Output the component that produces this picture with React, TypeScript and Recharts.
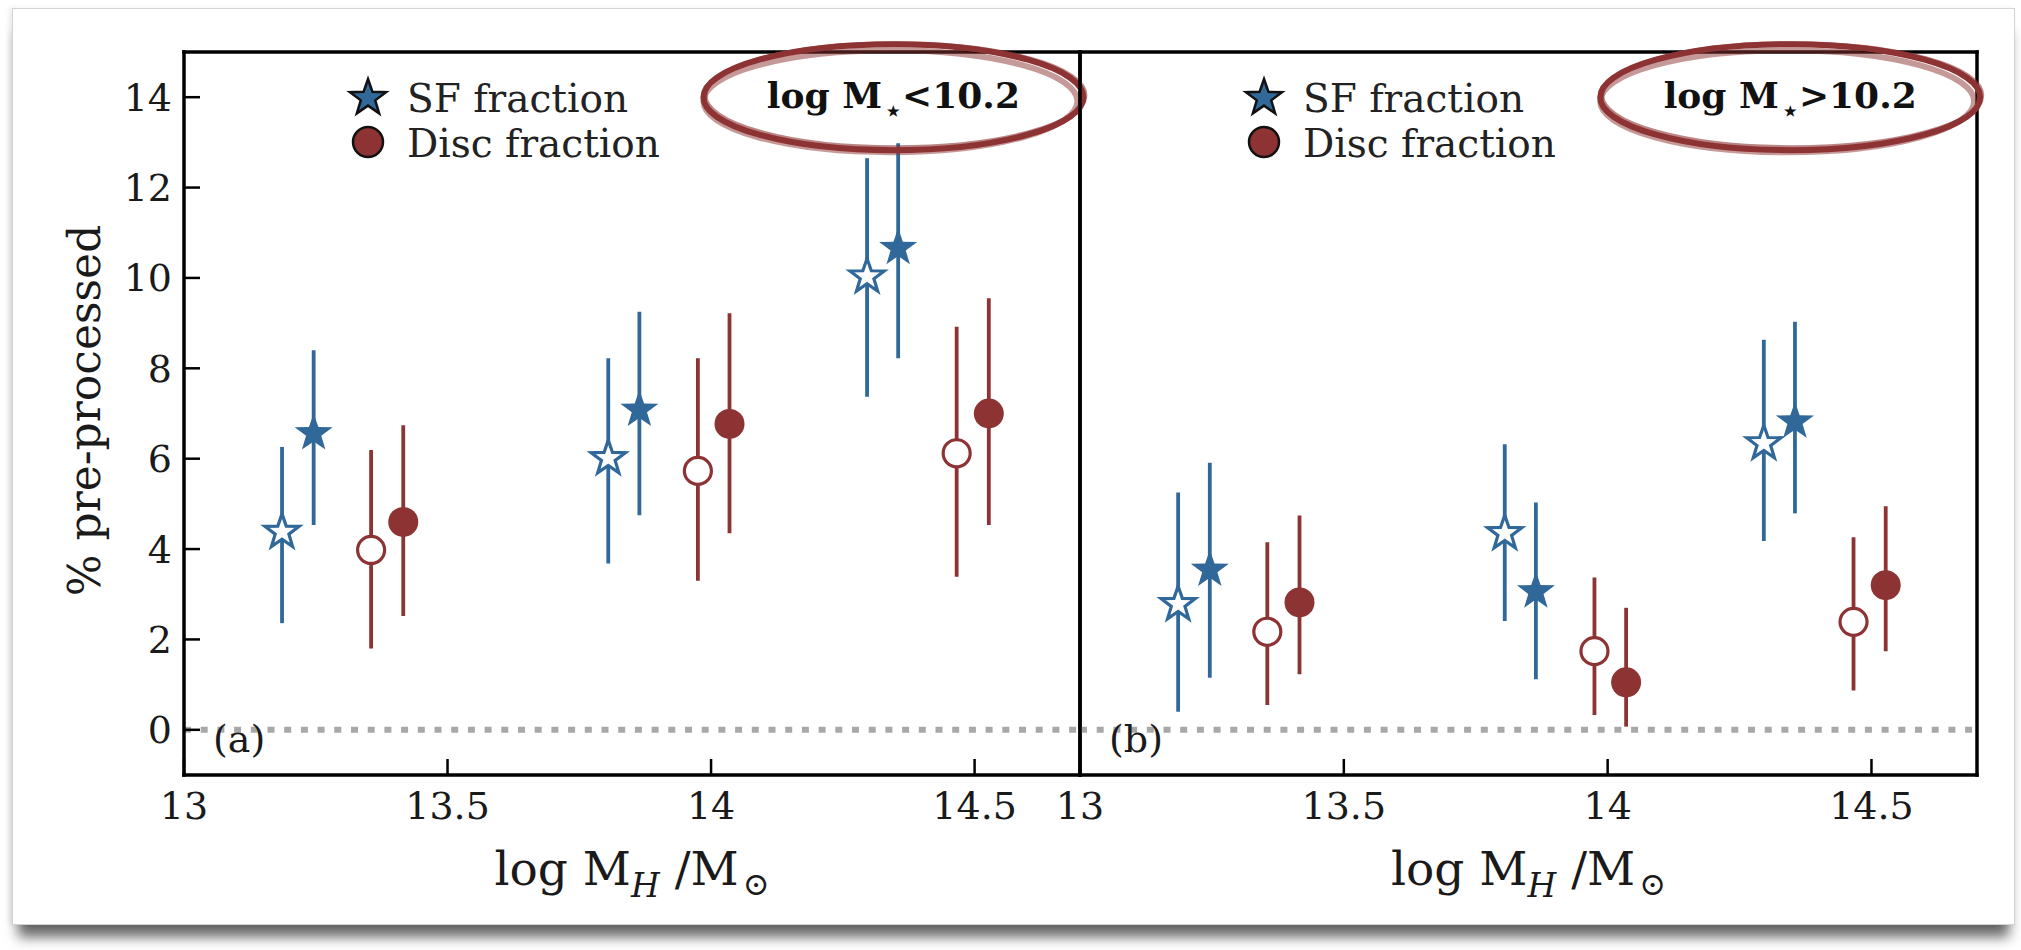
import React from "react";
import {
  ErrorBar,
  ReferenceDot,
  ReferenceLine,
  Scatter,
  ScatterChart,
  XAxis,
  YAxis,
} from "recharts";

const SERIF = "'DejaVu Serif', serif";
const BLUE = "#31689a";
const RED = "#8e3333";
const INK = "#1a1a1a";

const X_DOMAIN = [13, 14.7];
const Y_DOMAIN = [-1, 15];
const X_TICKS = [13, 13.5, 14, 14.5];
const Y_TICKS = [0, 2, 4, 6, 8, 10, 12, 14];

// log M_H positions of the four samples in each halo-mass bin
const sfOpenX = [13.186, 13.805, 14.296];
const sfFullX = [13.246, 13.864, 14.355];
const discOpenX = [13.355, 13.975, 14.466];
const discFullX = [13.416, 14.035, 14.527];

// panel (a): log M* < 10.2
const aSfOpen = [4.38, 6.01, 10.03];
const aSfOpenLo = [2.36, 3.68, 7.37];
const aSfOpenHi = [6.26, 8.22, 12.65];
const aSfFull = [6.56, 7.08, 10.66];
const aSfFullLo = [4.53, 4.75, 8.22];
const aSfFullHi = [8.4, 9.25, 12.98];
const aDiscOpen = [3.98, 5.73, 6.12];
const aDiscOpenLo = [1.8, 3.3, 3.39];
const aDiscOpenHi = [6.19, 8.22, 8.92];
const aDiscFull = [4.6, 6.77, 7.0];
const aDiscFullLo = [2.52, 4.35, 4.53];
const aDiscFullHi = [6.74, 9.22, 9.55];

// panel (b): log M* > 10.2
const bSfOpen = [2.78, 4.35, 6.34];
const bSfOpenLo = [0.4, 2.41, 4.18];
const bSfOpenHi = [5.25, 6.32, 8.63];
const bSfFull = [3.54, 3.06, 6.82];
const bSfFullLo = [1.15, 1.12, 4.79];
const bSfFullHi = [5.91, 5.03, 9.03];
const bDiscOpen = [2.17, 1.74, 2.39];
const bDiscOpenLo = [0.55, 0.33, 0.87];
const bDiscOpenHi = [4.15, 3.37, 4.26];
const bDiscFull = [2.82, 1.05, 3.2];
const bDiscFullLo = [1.23, 0.07, 1.74];
const bDiscFullHi = [4.74, 2.7, 4.95];

const pts = (xs: number[], ys: number[], lo: number[], hi: number[]) =>
  xs.map((x, i) => ({ x, y: ys[i], err: [ys[i] - lo[i], hi[i] - ys[i]] }));

const panelA = {
  sfOpen: pts(sfOpenX, aSfOpen, aSfOpenLo, aSfOpenHi),
  sfFull: pts(sfFullX, aSfFull, aSfFullLo, aSfFullHi),
  discOpen: pts(discOpenX, aDiscOpen, aDiscOpenLo, aDiscOpenHi),
  discFull: pts(discFullX, aDiscFull, aDiscFullLo, aDiscFullHi),
};
const panelB = {
  sfOpen: pts(sfOpenX, bSfOpen, bSfOpenLo, bSfOpenHi),
  sfFull: pts(sfFullX, bSfFull, bSfFullLo, bSfFullHi),
  discOpen: pts(discOpenX, bDiscOpen, bDiscOpenLo, bDiscOpenHi),
  discFull: pts(discFullX, bDiscFull, bDiscFullLo, bDiscFullHi),
};

function starPath(cx: number, cy: number, R: number) {
  const r = R * 0.4;
  let d = "";
  for (let i = 0; i < 10; i++) {
    const rad = i % 2 === 0 ? R : r;
    const a = -Math.PI / 2 + (i * Math.PI) / 5;
    d += (i ? "L" : "M") + (cx + rad * Math.cos(a)).toFixed(2) + "," + (cy + rad * Math.sin(a)).toFixed(2);
  }
  return d + "Z";
}

const openStar = (p: any) => (
  <path d={starPath(p.cx, p.cy, 18)} fill="#fff" stroke={BLUE} strokeWidth={3.2} />
);
const fullStar = (p: any) => <path d={starPath(p.cx, p.cy, 20)} fill={BLUE} />;
const openDot = (p: any) => (
  <circle cx={p.cx} cy={p.cy} r={13.5} fill="#fff" stroke={RED} strokeWidth={3.2} />
);
const fullDot = (p: any) => <circle cx={p.cx} cy={p.cy} r={15} fill={RED} />;

const FRAME = { stroke: "#000", strokeWidth: 3.5, strokeLinecap: "square" as const };
const TICK_LINE = { stroke: "#000", strokeWidth: 2.5 };
const TICK_FONT = { fontSize: 38, fill: INK, fontFamily: SERIF };

const XTitle = (props: any) => {
  const vb = props.viewBox;
  const cx = vb.x + vb.width / 2;
  return (
    <text x={cx} y={vb.y + 110} textAnchor="middle" fontFamily={SERIF} fontSize={47} fill={INK}>
      log M
      <tspan fontSize={33} fontStyle="italic" dy={12}>H</tspan>
      <tspan dy={-12}> /M</tspan>
      <tspan fontSize={32} dy={10} dx={4}>⊙</tspan>
    </text>
  );
};

const YTitle = (props: any) => {
  const vb = props.viewBox;
  const cx = vb.x + 40;
  const cy = vb.y + vb.height / 2 - 3;
  return (
    <text
      x={cx}
      y={cy}
      transform={`rotate(-90 ${cx} ${cy})`}
      textAnchor="middle"
      dominantBaseline="central"
      fontFamily={SERIF}
      fontSize={44}
      fill={INK}
    >
      % pre-processed
    </text>
  );
};

function massBadge(sign: string) {
  return (p: any) => (
    <g>
      <ellipse cx={p.cx - 3} cy={p.cy + 4} rx={187} ry={51} fill="none" stroke={RED} strokeWidth={6} opacity={0.5} />
      <ellipse cx={p.cx + 2} cy={p.cy - 2} rx={190} ry={52} fill="none" stroke={RED} strokeWidth={4} opacity={0.6} />
      <ellipse cx={p.cx} cy={p.cy} rx={190} ry={53} fill="none" stroke={RED} strokeWidth={6} />
      <text x={p.cx} y={p.cy + 11} textAnchor="middle" fontFamily={SERIF} fontWeight="bold" fontSize={36} fill="#111">
        log M
        <tspan fontSize={14} dy={8} dx={5}>★</tspan>
        <tspan dy={-8} dx={2}>{sign + "10.2"}</tspan>
      </text>
    </g>
  );
}

function panelTag(tag: string) {
  return (p: any) => (
    <text x={p.cx + 29} y={p.cy + 22} fontFamily={SERIF} fontSize={38} fill={INK}>
      {tag}
    </text>
  );
}

function Panel({ data, left, right, width, showY, tag, sign }: any) {
  return (
    <div style={{ position: "absolute", left: 0, top: 0 }}>
      <ScatterChart width={width} height={950} margin={{ top: 32, right, bottom: 115, left }}>
        <XAxis
          xAxisId="b"
          type="number"
          dataKey="x"
          domain={X_DOMAIN}
          ticks={X_TICKS}
          interval={0}
          allowDataOverflow
          height={60}
          tickSize={-16}
          tickMargin={33}
          tick={TICK_FONT}
          tickLine={TICK_LINE}
          axisLine={FRAME}
          label={XTitle}
        />
        <XAxis
          xAxisId="t"
          orientation="top"
          type="number"
          domain={X_DOMAIN}
          ticks={X_TICKS}
          interval={0}
          allowDataOverflow
          height={20}
          tickSize={-16}
          tick={false}
          tickLine={TICK_LINE}
          axisLine={FRAME}
        />
        <YAxis
          yAxisId="l"
          type="number"
          dataKey="y"
          domain={Y_DOMAIN}
          ticks={Y_TICKS}
          interval={0}
          allowDataOverflow
          width={140}
          tickSize={-16}
          tickMargin={28}
          tick={showY ? TICK_FONT : false}
          tickLine={TICK_LINE}
          axisLine={FRAME}
          label={showY ? YTitle : undefined}
        />
        <YAxis
          yAxisId="r"
          orientation="right"
          type="number"
          domain={Y_DOMAIN}
          ticks={Y_TICKS}
          interval={0}
          allowDataOverflow
          width={20}
          tickSize={-16}
          tick={false}
          tickLine={TICK_LINE}
          axisLine={FRAME}
        />
        <ReferenceLine
          xAxisId="b"
          yAxisId="l"
          y={0}
          stroke="#a8a8a8"
          strokeWidth={6}
          strokeDasharray="7 9.7"
        />
        <Scatter xAxisId="b" yAxisId="l" data={data.sfOpen} shape={openStar} isAnimationActive={false}>
          <ErrorBar dataKey="err" direction="y" width={0} stroke={BLUE} strokeWidth={3.8} isAnimationActive={false} />
        </Scatter>
        <Scatter xAxisId="b" yAxisId="l" data={data.sfFull} shape={fullStar} isAnimationActive={false}>
          <ErrorBar dataKey="err" direction="y" width={0} stroke={BLUE} strokeWidth={3.8} isAnimationActive={false} />
        </Scatter>
        <Scatter xAxisId="b" yAxisId="l" data={data.discOpen} shape={openDot} isAnimationActive={false}>
          <ErrorBar dataKey="err" direction="y" width={0} stroke={RED} strokeWidth={3.8} isAnimationActive={false} />
        </Scatter>
        <Scatter xAxisId="b" yAxisId="l" data={data.discFull} shape={fullDot} isAnimationActive={false}>
          <ErrorBar dataKey="err" direction="y" width={0} stroke={RED} strokeWidth={3.8} isAnimationActive={false} />
        </Scatter>
        <ReferenceDot xAxisId="b" yAxisId="l" x={13} y={0} r={0} ifOverflow="visible" shape={panelTag(tag)} />
        <ReferenceDot xAxisId="b" yAxisId="l" x={14.346} y={14} r={0} ifOverflow="visible" shape={massBadge(sign)} />
      </ScatterChart>
    </div>
  );
}

function LegendBox({ left }: { left: number }) {
  return (
    <svg style={{ position: "absolute", left, top: 70 }} width={340} height={110}>
      <path d={starPath(24, 28, 19)} fill={BLUE} stroke="#111" strokeWidth={2.5} />
      <text x={63} y={42} fontFamily={SERIF} fontSize={39} fill="#222">SF fraction</text>
      <circle cx={24} cy={72} r={15} fill={RED} stroke="#111" strokeWidth={2.5} />
      <text x={63} y={87} fontFamily={SERIF} fontSize={39} fill="#222">Disc fraction</text>
    </svg>
  );
}

export default function App() {
  return (
    <div style={{ position: "relative", width: 2021, height: 950, background: "#fff", overflow: "hidden" }}>
      <style>{"body{margin:0}"}</style>
      <div
        style={{
          position: "absolute",
          left: 12,
          top: 8,
          width: 2003,
          height: 917,
          boxSizing: "border-box",
          border: "1px solid #d4d4d4",
          background: "#fff",
          boxShadow: "0 18px 12px -6px rgba(0,0,0,0.6), -3px 0 5px rgba(0,0,0,0.08)",
        }}
      />
      <Panel data={panelA} width={1100} left={44} right={0} showY tag="(a)" sign="<" />
      <Panel data={panelB} width={2021} left={940} right={24} showY={false} tag="(b)" sign=">" />
      <LegendBox left={344} />
      <LegendBox left={1240} />
    </div>
  );
}
